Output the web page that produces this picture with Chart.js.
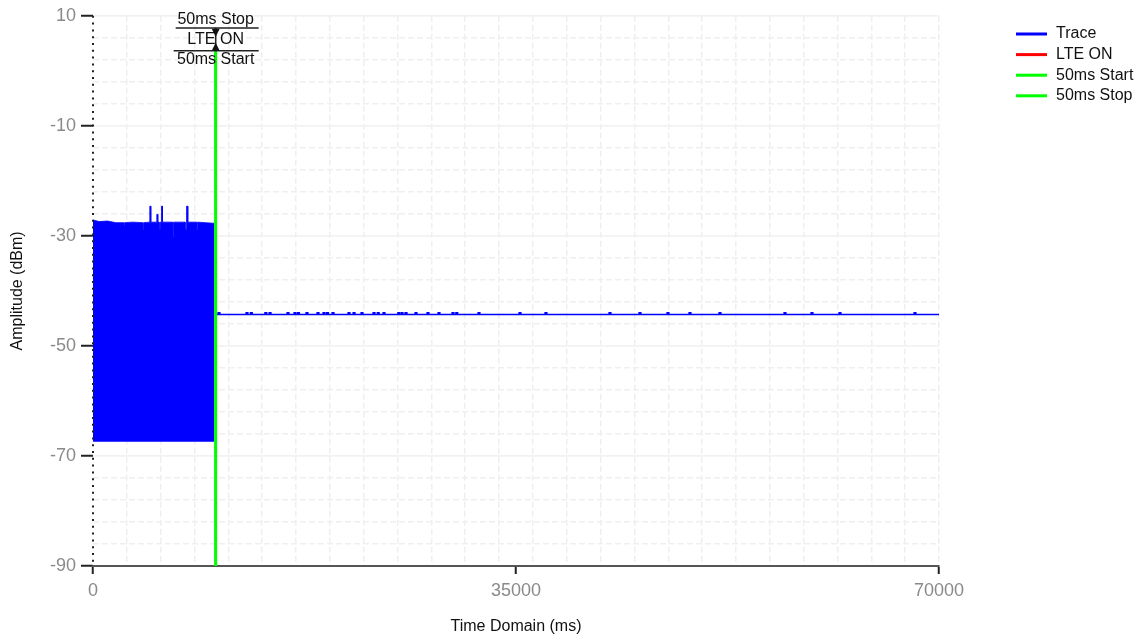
<!DOCTYPE html>
<html>
<head>
<meta charset="utf-8">
<title>Trace</title>
<script src="https://cdn.jsdelivr.net/npm/chart.js@4.4.1/dist/chart.umd.min.js"></script>
<style>
  html, body { margin: 0; padding: 0; background: #ffffff; }
  #wrap { width: 1148px; height: 641px; }
</style>
</head>
<body>
<div id="wrap"><canvas id="chart"></canvas></div>
<script>
// Upper edge of the dense burst before LTE ON (time in ms, amplitude in dBm)
const burstTime = [0, 500, 1200, 1900,
    2520, 2521, 2609, 2610,
    3300,
    4090, 4091, 4179, 4180,
    4700, 4701, 4779, 4780,
    5280, 5281, 5359, 5360,
    5470, 5471, 5559, 5560,
    5670, 5671, 5749, 5750,
    6570, 6571, 6659, 6660,
    7620, 7621, 7709, 7710,
    7760, 7761, 7839, 7840,
    8560, 8561, 8649, 8650,
    9300, 9950, 10050];
const burstTop = [-27.1, -27.4, -27.3, -27.6,
    -27.6, -28.2, -28.2, -27.6,
    -27.5,
    -27.6, -28.8, -28.8, -27.6,
    -27.5, -24.6, -24.6, -27.5,
    -27.5, -26.1, -26.1, -27.5,
    -27.5, -28.8, -28.8, -27.5,
    -27.5, -24.6, -24.6, -27.5,
    -27.5, -30.2, -30.2, -27.5,
    -27.5, -28.8, -28.8, -27.5,
    -27.5, -24.6, -24.6, -27.5,
    -27.5, -28.8, -28.8, -27.5,
    -27.6, -27.7, -27.7];
const burstFloor = -67.4;

// Flat trace after LTE ON
const flatTime = [10150, 70000];
const flatLevel = [-44.3, -44.3];

// Small bumps sitting on the flat trace
const bumpTime = [10425, 12742, 13100, 14300, 14650, 16134, 16714, 17000, 17707, 18617, 19113, 19400,
    19858, 21182, 21600, 22258, 23251, 23600, 24078, 25300, 25568, 25900, 26725, 27718, 28628, 29787,
    30100, 31938, 35330, 37480, 42775, 45258, 47575, 49395, 51877, 57255, 59490, 61807, 68013];
const bumpLevel = -44.0;

// Vertical markers
const markerNames = ['LTE ON', '50ms Start', '50ms Stop'];
const markerTimes = [10150, 10150, 10150];
const markerTops = [7.8, 3.6, 3.6];
const markerColors = ['#ff0000', '#00ff00', '#00ff00'];

// Axis ticks
const xTicks = [0, 35000, 70000];
const yTicks = [10, -10, -30, -50, -70, -90];

const traceColor = '#0000ff';
const fontFamily = "'Liberation Sans', Arial, sans-serif";

// Dotted y axis line
const dottedAxis = {
    id: 'dottedAxis',
    afterDatasetsDraw(chart) {
        const { ctx, chartArea } = chart;
        ctx.save();
        ctx.strokeStyle = '#222';
        ctx.lineWidth = 2;
        ctx.setLineDash([2, 4.8]);
        ctx.beginPath();
        ctx.moveTo(chartArea.left, chartArea.top);
        ctx.lineTo(chartArea.left, chartArea.bottom);
        ctx.stroke();
        ctx.restore();
    }
};

// Marker labels at the top of the marker lines
const markerLabels = {
    id: 'markerLabels',
    afterDatasetsDraw(chart) {
        const { ctx, chartArea, scales } = chart;
        const x = scales.x.getPixelForValue(markerTimes[0]);
        const top = chartArea.top;
        ctx.save();
        ctx.strokeStyle = '#222';
        ctx.fillStyle = '#111';
        ctx.lineWidth = 1.5;
        // connector between the two bars
        ctx.beginPath();
        ctx.moveTo(x, top + 12);
        ctx.lineTo(x, top + 35);
        ctx.stroke();
        // bars
        ctx.beginPath();
        ctx.moveTo(x - 40, top + 12.3);
        ctx.lineTo(x + 43, top + 12.3);
        ctx.moveTo(x - 42, top + 35);
        ctx.lineTo(x + 43, top + 35);
        ctx.stroke();
        // arrow heads
        ctx.beginPath();
        ctx.moveTo(x - 4, top + 13);
        ctx.lineTo(x + 4, top + 13);
        ctx.lineTo(x, top + 21);
        ctx.closePath();
        ctx.fill();
        ctx.beginPath();
        ctx.moveTo(x - 4, top + 35);
        ctx.lineTo(x + 4, top + 35);
        ctx.lineTo(x, top + 27);
        ctx.closePath();
        ctx.fill();
        // texts
        ctx.font = '16px ' + fontFamily;
        ctx.textAlign = 'center';
        ctx.textBaseline = 'middle';
        ctx.fillText(markerNames[2], x, top + 4);
        ctx.fillText(markerNames[0], x, top + 24);
        ctx.fillText(markerNames[1], x, top + 44);
        ctx.restore();
    }
};

// Legend on the right
const sideLegend = {
    id: 'sideLegend',
    afterDraw(chart) {
        const { ctx } = chart;
        const names = ['Trace'].concat(markerNames);
        const colors = [traceColor].concat(markerColors);
        ctx.save();
        ctx.font = '16px ' + fontFamily;
        ctx.textAlign = 'left';
        ctx.textBaseline = 'middle';
        names.forEach((name, i) => {
            const y = 34 + i * 20.6;
            ctx.strokeStyle = colors[i];
            ctx.lineWidth = 3;
            ctx.beginPath();
            ctx.moveTo(1016, y);
            ctx.lineTo(1047, y);
            ctx.stroke();
            ctx.fillStyle = '#111';
            ctx.fillText(name, 1056, y);
        });
        ctx.restore();
    }
};

const datasets = [];

markerNames.forEach((name, i) => {
    datasets.push({
        label: name,
        data: [{ x: markerTimes[i], y: -90 }, { x: markerTimes[i], y: markerTops[i] }],
        borderColor: markerColors[i],
        borderWidth: i === 0 ? 1 : 2.8,
        pointRadius: 0,
        order: i === 0 ? 2 : 1
    });
});

datasets.push({
    label: 'Trace',
    data: burstTime.map((t, i) => ({ x: t, y: burstTop[i] })),
    borderColor: traceColor,
    backgroundColor: traceColor,
    borderWidth: 0.8,
    pointRadius: 0,
    tension: 0,
    fill: { value: burstFloor },
    order: 4
});

datasets.push({
    label: 'Trace flat',
    data: flatTime.map((t, i) => ({ x: t, y: flatLevel[i] })),
    borderColor: traceColor,
    borderWidth: 1.5,
    pointRadius: 0,
    order: 4
});

datasets.push({
    label: 'Trace bumps',
    data: bumpTime.map(t => ({ x: t, y: bumpLevel })),
    showLine: false,
    pointStyle: 'line',
    pointRadius: 1.6,
    borderColor: traceColor,
    pointBorderWidth: 2,
    order: 4
});

const tickFont = { family: fontFamily, size: 18 };
const titleFont = { family: fontFamily, size: 16 };
const gridDash = '#efefef';

new Chart(document.getElementById('chart'), {
    type: 'line',
    data: { datasets: datasets },
    options: {
        responsive: true,
        maintainAspectRatio: false,
        animation: false,
        events: [],
        layout: { padding: { top: 15, right: 209, bottom: 0, left: 0 } },
        scales: {
            x: {
                type: 'linear',
                min: 0,
                max: 70000,
                afterBuildTicks(scale) {
                    const vals = [];
                    for (let v = 0; v <= 70000; v += 2800) vals.push(v);
                    xTicks.forEach(v => { if (!vals.includes(v)) vals.push(v); });
                    vals.sort((a, b) => a - b);
                    scale.ticks = vals.map(v => ({ value: v }));
                },
                afterFit(scale) { scale.height = 75; },
                ticks: {
                    autoSkip: false,
                    maxRotation: 0,
                    padding: 6,
                    color: '#8a8a8a',
                    font: tickFont,
                    callback: v => (xTicks.includes(v) ? String(v) : '')
                },
                grid: {
                    color: ctx => (ctx.tick && (ctx.tick.value === 0 || ctx.tick.value % 2800 !== 0)) ? 'rgba(0,0,0,0)' : gridDash,
                    lineWidth: 1.5,
                    tickLength: 8,
                    tickWidth: 2,
                    tickColor: ctx => (ctx.tick && xTicks.includes(ctx.tick.value)) ? '#222' : 'rgba(0,0,0,0)'
                },
                border: { display: true, color: '#555', width: 2, dash: [6, 3] },
                title: {
                    display: true,
                    text: 'Time Domain (ms)',
                    color: '#111',
                    font: titleFont,
                    padding: { top: 0, bottom: 5 }
                }
            },
            y: {
                min: -90,
                max: 10,
                afterBuildTicks(scale) {
                    const vals = [];
                    for (let v = 10; v >= -90; v -= 4) vals.push({ value: v });
                    scale.ticks = vals.reverse();
                },
                afterFit(scale) { scale.width = 93; },
                ticks: {
                    autoSkip: false,
                    padding: 5,
                    color: '#8a8a8a',
                    font: tickFont,
                    callback: v => (yTicks.includes(v) ? String(v) : '')
                },
                grid: {
                    color: ctx => (ctx.tick && ctx.tick.value === -90) ? 'rgba(0,0,0,0)' : gridDash,
                    lineWidth: 1.5,
                    tickLength: 12,
                    tickWidth: 2,
                    tickColor: ctx => (ctx.tick && yTicks.includes(ctx.tick.value)) ? '#222' : 'rgba(0,0,0,0)'
                },
                border: { display: false, dash: [6, 3] },
                title: {
                    display: true,
                    text: 'Amplitude (dBm)',
                    color: '#111',
                    font: titleFont,
                    padding: { top: 8, bottom: 0 }
                }
            },
            yMajor: {
                position: 'right',
                min: -90,
                max: 10,
                afterBuildTicks(scale) {
                    scale.ticks = yTicks.slice(0, 5).map(v => ({ value: v }));
                },
                afterFit(scale) { scale.width = 0; },
                ticks: { display: false },
                grid: { color: '#f2f2f2', lineWidth: 1.5, drawTicks: false },
                border: { display: false }
            }
        },
        plugins: {
            legend: { display: false },
            tooltip: { enabled: false }
        }
    },
    plugins: [dottedAxis, markerLabels, sideLegend]
});
</script>
</body>
</html>
